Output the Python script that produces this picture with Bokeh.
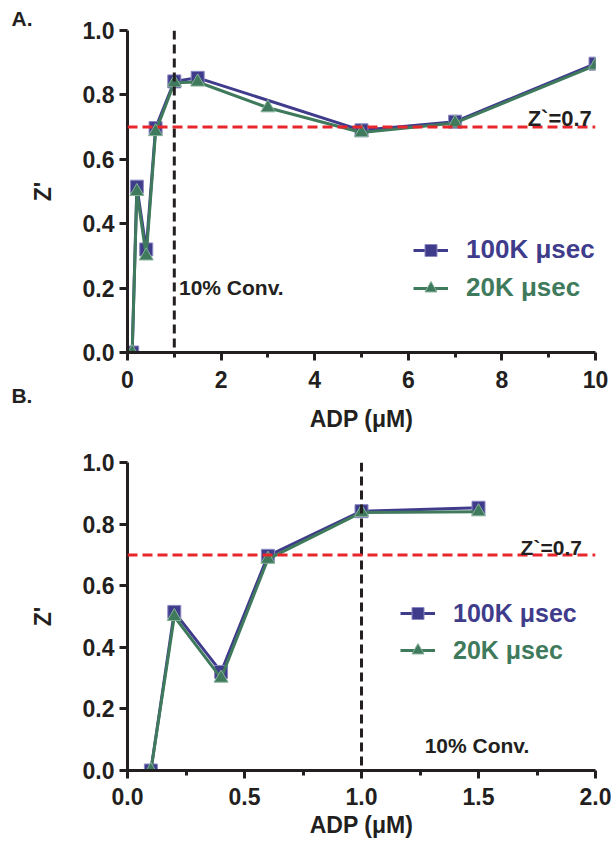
from bokeh.plotting import figure
from bokeh.layouts import column
from bokeh.models import (Range1d, FixedTicker, PrintfTickFormatter, Span, Label,
                          Legend, LegendItem, Title)
from bokeh.embed import file_html
from bokeh.resources import INLINE

# ---- data ----
x_100k = [0.1, 0.2, 0.4, 0.6, 1.0, 1.5, 5.0, 7.0, 10.0]
z_100k = [0.0, 0.515, 0.32, 0.697, 0.842, 0.853, 0.69, 0.717, 0.897]
x_20k = [0.1, 0.2, 0.4, 0.6, 1.0, 1.5, 3.0, 5.0, 7.0, 10.0]
z_20k = [0.0, 0.50, 0.30, 0.686, 0.838, 0.84, 0.76, 0.683, 0.713, 0.892]

zoom_max = 1.5
bx_100k = [x for x in x_100k if x <= zoom_max]
bz_100k = [z for x, z in zip(x_100k, z_100k) if x <= zoom_max]
bx_20k = [x for x in x_20k if x <= zoom_max]
bz_20k = [z for x, z in zip(x_20k, z_20k) if x <= zoom_max]

threshold = 0.7
conv10 = 1.0
y_ticks = [0.0, 0.2, 0.4, 0.6, 0.8, 1.0]
xa_ticks = [0, 2, 4, 6, 8, 10]
xa_minor = [1, 3, 5, 7, 9]
xb_ticks = [0.0, 0.5, 1.0, 1.5, 2.0]
xb_minor = [0.25, 0.75, 1.25, 1.75]
label_100k = "100K μsec"
label_20k = "20K μsec"

PURPLE = "#403c8c"
GREEN = "#3f7a5c"
RED = "#e8262b"
BLACK = "#231f20"
FONT = "Liberation Sans"


def style_axes(p, xticks, xminor, xfmt):
    p.xaxis.ticker = FixedTicker(ticks=xticks, minor_ticks=xminor)
    p.yaxis.ticker = FixedTicker(ticks=y_ticks, minor_ticks=[])
    p.xaxis.formatter = PrintfTickFormatter(format=xfmt)
    p.yaxis.formatter = PrintfTickFormatter(format="%.1f")
    for ax in (p.xaxis, p.yaxis):
        ax.axis_line_width = 3
        ax.axis_line_color = BLACK
        ax.major_tick_line_width = 3
        ax.major_tick_line_color = BLACK
        ax.major_tick_out = 8
        ax.major_tick_in = 0
        ax.minor_tick_line_width = 3
        ax.minor_tick_line_color = BLACK
        ax.minor_tick_out = 5
        ax.minor_tick_in = 0
        ax.major_label_text_font = FONT
        ax.major_label_text_font_style = "bold"
        ax.major_label_text_font_size = "23px"
        ax.major_label_text_color = BLACK
        ax.axis_label_text_font = FONT
        ax.axis_label_text_font_style = "bold"
        ax.axis_label_text_font_size = "23px"
        ax.axis_label_text_color = BLACK
    p.yaxis.major_label_standoff = 5
    p.xaxis.axis_label = "ADP (μM)"
    p.yaxis.axis_label = "Z'"
    p.yaxis.axis_label_standoff = 24
    p.xgrid.visible = False
    p.ygrid.visible = False
    p.outline_line_color = None


def add_series(p, xa, za, xb, zb, leg1_loc, leg2_loc, fs):
    l1 = p.line(xa, za, line_color=PURPLE, line_width=3)
    s1 = p.scatter(xa, za, marker="square", size=13, fill_color=PURPLE,
                   line_color="#8a88c0", line_width=1)
    l2 = p.line(xb, zb, line_color=GREEN, line_width=3)
    s2 = p.scatter(xb, zb, marker="triangle", size=14, fill_color=GREEN,
                   line_color="#86b09a", line_width=1)
    for loc, lab, rends, col in ((leg1_loc, label_100k, [l1, s1], PURPLE),
                                 (leg2_loc, label_20k, [l2, s2], GREEN)):
        leg = Legend(items=[LegendItem(label=lab, renderers=rends)],
                     location=loc, label_text_font=FONT,
                     label_text_font_style="bold", label_text_font_size=fs,
                     label_text_color=col, glyph_width=35, glyph_height=30,
                     label_height=30, label_standoff=18, padding=0, margin=0,
                     spacing=0, border_line_color=None,
                     background_fill_alpha=0)
        p.add_layout(leg)


# ---- panel A ----
pa = figure(width=611, height=434, x_range=Range1d(0, 10), y_range=Range1d(0, 1),
            output_backend="svg", toolbar_location=None,
            min_border_left=124, min_border_right=10, min_border_top=30,
            min_border_bottom=79)
pa.title = Title(text="A.", align="left", offset=-116, standoff=2,
                 text_font=FONT, text_font_style="bold", text_font_size="21px",
                 text_color=BLACK)
style_axes(pa, xa_ticks, xa_minor, "%d")
pa.xaxis.major_label_standoff = 10
pa.xaxis.axis_label_standoff = 15
pa.add_layout(Span(location=conv10, dimension="height", line_color=BLACK,
                   line_width=3, line_dash="9 5"))
pa.add_layout(Span(location=threshold, dimension="width", line_color=RED,
                   line_width=3, line_dash="10 5"))
add_series(pa, x_100k, z_100k, x_20k, z_20k, (286, 87), (286, 49), "26px")
pa.add_layout(Label(x=8.55, y=threshold - 0.011, text="Z`=0.7", text_font=FONT,
                    text_font_style="bold", text_font_size="22px",
                    text_color=BLACK))
pa.add_layout(Label(x=1.1, y=0.167, text="10% Conv.", text_font=FONT,
                    text_font_style="bold", text_font_size="21px",
                    text_color=BLACK))
pa.add_layout(Label(x=-2.48, y=-0.169, text="B.", text_font=FONT,
                    text_font_style="bold", text_font_size="21px",
                    text_color=BLACK), "left")

# ---- panel B ----
pb = figure(width=611, height=409, x_range=Range1d(0, 2), y_range=Range1d(0, 1),
            output_backend="svg", toolbar_location=None,
            min_border_left=127, min_border_right=16, min_border_top=28,
            min_border_bottom=73)
style_axes(pb, xb_ticks, xb_minor, "%.1f")
pb.xaxis.major_label_standoff = 9
pb.xaxis.axis_label_standoff = 4
pb.add_layout(Span(location=conv10, dimension="height", line_color=BLACK,
                   line_width=3, line_dash="9 5"))
pb.add_layout(Span(location=threshold, dimension="width", line_color=RED,
                   line_width=3, line_dash="10 5"))
add_series(pb, bx_100k, bz_100k, bx_20k, bz_20k, (273, 142), (273, 105), "25px")
pb.add_layout(Label(x=1.68, y=threshold - 0.012, text="Z`=0.7", text_font=FONT,
                    text_font_style="bold", text_font_size="21px",
                    text_color=BLACK))
pb.add_layout(Label(x=1.27, y=0.045, text="10% Conv.", text_font=FONT,
                    text_font_style="bold", text_font_size="21px",
                    text_color=BLACK))

layout = column(pa, pb, spacing=0)
open("out.html", "w").write(file_html(layout, INLINE))
